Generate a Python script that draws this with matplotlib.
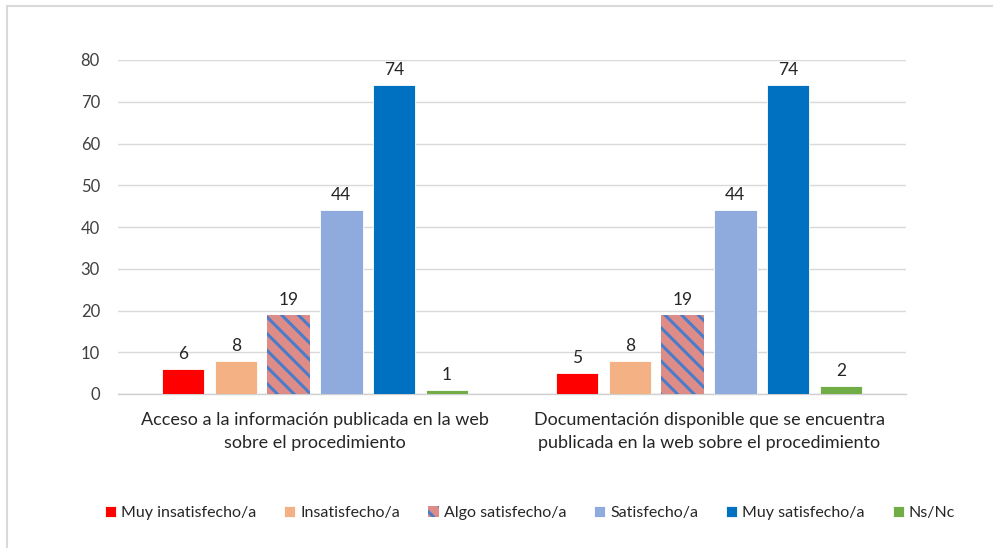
import matplotlib
matplotlib.use("Agg")
import matplotlib.pyplot as plt
import numpy as np
from matplotlib.patches import Rectangle

plt.rcParams['font.family'] = ['Lato', 'DejaVu Sans']
plt.rcParams['hatch.linewidth'] = 2.2

categories = ["Acceso a la información publicada en la web\nsobre el procedimiento",
              "Documentación disponible que se encuentra\npublicada en la web sobre el procedimiento"]
series_names = ["Muy insatisfecho/a", "Insatisfecho/a", "Algo satisfecho/a",
                "Satisfecho/a", "Muy satisfecho/a", "Ns/Nc"]
values = {
    "Muy insatisfecho/a": [6, 5],
    "Insatisfecho/a": [8, 8],
    "Algo satisfecho/a": [19, 19],
    "Satisfecho/a": [44, 44],
    "Muy satisfecho/a": [74, 74],
    "Ns/Nc": [1, 2],
}
colors = ["#FF0000", "#F4B183", "#DE8C88", "#8FAADC", "#0070C0", "#70AD47"]
hatches = [None, None, "\\\\", None, None, None]
yticks = [0, 10, 20, 30, 40, 50, 60, 70, 80]

fig = plt.figure(figsize=(9.93, 5.48), dpi=100)
fig.patch.set_facecolor("white")
# outer light border (left and top visible)
fig.patches.append(Rectangle((7/993, -0.1), 1.2, (548 - 6)/548 + 0.1, transform=fig.transFigure,
                             fill=False, edgecolor="#D9D9D9", linewidth=1.5, zorder=0))

ax = fig.add_axes([118/993, 154/548, 788/993, 334/548])
x = np.arange(len(categories))
width = 0.108
pitch = 0.134
n = len(series_names)
for i, name in enumerate(series_names):
    offs = (i - (n - 1) / 2) * pitch
    vals = values[name]
    if hatches[i]:
        bars = ax.bar(x + offs, vals, width, color=colors[i], edgecolor="#4A7CC9",
                      hatch=hatches[i], linewidth=0, label=name, zorder=3)
    else:
        bars = ax.bar(x + offs, vals, width, color=colors[i], edgecolor="white",
                      linewidth=0.6, label=name, zorder=3)
    for b, v in zip(bars, vals):
        ax.annotate(str(v), (b.get_x() + b.get_width() / 2, v), xytext=(0, 5),
                    textcoords="offset points", ha="center", va="bottom",
                    fontsize=12.5, color="#262626")

ax.set_xlim(-0.5, 1.5)
ax.set_ylim(0, 80)
ax.set_yticks(yticks)
ax.set_yticklabels([str(t) for t in yticks], fontsize=12, color="#404040")
ax.set_xticks(x)
ax.set_xticklabels(categories, fontsize=13, color="#262626", linespacing=1.55)
ax.tick_params(axis="y", length=0, pad=13)
ax.tick_params(axis="x", length=0, pad=13)
ax.grid(axis="y", color="#D9D9D9", linewidth=1, zorder=0)
for s in ["top", "right", "left"]:
    ax.spines[s].set_visible(False)
ax.spines["bottom"].set_color("#D0D0D0")
ax.spines["bottom"].set_linewidth(1)

leg = fig.legend(loc="center", bbox_to_anchor=(530/993, 1 - 513/548), ncol=6, frameon=False,
                 fontsize=11.5, handlelength=0.7, handleheight=0.7, handletextpad=0.3,
                 columnspacing=1.75, labelcolor="#262626")

fig.savefig("out.png", dpi=100)
